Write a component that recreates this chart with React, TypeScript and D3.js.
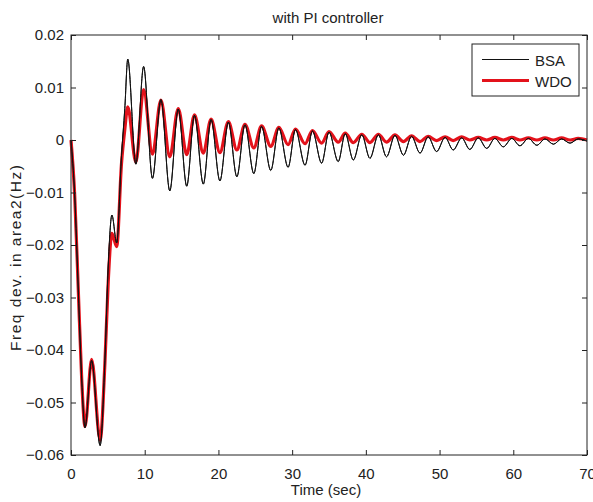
import React, { useEffect, useRef } from 'react'
import * as d3 from 'd3'

// time samples (sec) — peaks/troughs
const TIME = [
  0, 0.5, 1.0, 1.45, 1.9, 2.8, 3.95, 4.6, 5.05, 5.55, 6.2, 6.85, 7.3, 7.7,
  8.8, 9.85, 11.05, 12.2, 13.4, 14.55, 15.7, 16.75, 17.95, 19.0, 20.2, 21.35,
  22.5, 23.6, 24.8, 25.85, 27.1, 28.2, 29.45, 30.45, 31.75, 32.75, 34.0, 35.0,
  36.25, 37.2, 38.3, 39.45, 40.55, 41.7, 42.8, 43.95, 45.1, 46.2, 47.35, 48.45,
  49.6, 50.75, 51.85, 53.0, 54.1, 55.25, 56.4, 57.5, 58.65, 59.8, 60.9, 62.05,
  63.2, 64.3, 65.45, 66.55, 67.7, 68.8, 70,
]

const BSA = [
  0, -0.0105, -0.029, -0.0455, -0.0548, -0.042, -0.0582, -0.042, -0.024, -0.0143, -0.0196, -0.003, 0.006, 0.0154,
  -0.0046, 0.014, -0.0073, 0.0077, -0.0097, 0.0059, -0.0088, 0.0047, -0.0084, 0.0039, -0.0078, 0.0034,
  -0.007, 0.0029, -0.0064, 0.0026, -0.0058, 0.0023, -0.0052, 0.002, -0.0048, 0.0017, -0.0044, 0.0015,
  -0.0041, 0.0012, -0.0038, 0.001, -0.0035, 0.001, -0.0032, 0.0009, -0.0029, 0.0007, -0.0025, 0.0006,
  -0.0022, 0.0005, -0.0019, 0.0004, -0.0018, 0.0004, -0.0016, 0.0003, -0.0013, 0.0003, -0.0011, 0.0003,
  -0.001, 0.0002, -0.0008, 0.0002, -0.0006, 0.0002, -0.0002,
]

const WDO = [
  0, -0.0105, -0.029, -0.0455, -0.0546, -0.0418, -0.0572, -0.0425, -0.027, -0.0178, -0.0203, -0.0045, 0.002, 0.0063,
  -0.0042, 0.0096, -0.0027, 0.0076, -0.0032, 0.006, -0.0028, 0.0048, -0.0025, 0.004, -0.0024, 0.0035,
  -0.0019, 0.003, -0.0015, 0.0027, -0.0012, 0.0024, -0.0009, 0.0021, -0.0007, 0.0018, -0.0006, 0.0016,
  -0.0004, 0.0013, -0.0005, 0.0011, -0.0005, 0.0011, -0.0004, 0.001, -0.0003, 0.0008, -0.0003, 0.0007,
  -0.0001, 0.0006, -0.0001, 0.0006, 0.0, 0.0005, 0.0, 0.0005, 0.0, 0.0005, 0.0, 0.0004,
  0.0, 0.0004, 0.0, 0.0004, 0.0, 0.0003, 0.0,
]

const X_TICKS = [0, 10, 20, 30, 40, 50, 60, 70]
const Y_TICKS = [-0.06, -0.05, -0.04, -0.03, -0.02, -0.01, 0, 0.01, 0.02]

const SERIES = [
  { name: 'BSA', values: BSA, color: '#111111', width: 1 },
  { name: 'WDO', values: WDO, color: '#e3121b', width: 3.2 },
]

export default function App() {
  const ref = useRef<SVGSVGElement>(null)

  useEffect(() => {
    const W = 593, H = 502
    const M = { top: 35, right: 6, bottom: 47, left: 71 }
    const iw = W - M.left - M.right
    const ih = H - M.top - M.bottom
    const font = '"Liberation Sans", Arial, sans-serif'

    const svg = d3.select(ref.current)
    svg.selectAll('*').remove()
    svg.attr('width', W).attr('height', H)
    svg.append('rect').attr('width', W).attr('height', H).attr('fill', '#fff')

    const x = d3.scaleLinear().domain([0, 70]).range([0, iw])
    const y = d3.scaleLinear().domain([-0.06, 0.02]).range([ih, 0])

    const g = svg.append('g').attr('transform', `translate(${M.left},${M.top})`)

    const line = d3.line<number>()
      .x((d, i) => x(TIME[i]))
      .y(d => y(d))
      .curve(d3.curveMonotoneX)

    // red under, thin black on top so it shows through, like the original
    SERIES.slice().reverse().forEach(s => {
      g.append('path')
        .datum(s.values)
        .attr('fill', 'none')
        .attr('stroke', s.color)
        .attr('stroke-width', s.width)
        .attr('stroke-linejoin', 'round')
        .attr('d', line)
    })
    g.append('path')
      .datum(BSA)
      .attr('fill', 'none')
      .attr('stroke', '#111')
      .attr('stroke-width', 1)
      .attr('d', line)

    // MATLAB-style box with inward ticks
    const tick = 5
    const axisColor = '#222'
    const styleAxis = (s: any) => {
      s.select('.domain').remove()
      s.selectAll('line').attr('stroke', axisColor)
      s.selectAll('text').attr('fill', '#222').attr('font-family', font).attr('font-size', 15)
    }

    g.append('g').attr('transform', `translate(0,${ih})`)
      .call(d3.axisBottom(x).tickValues(X_TICKS).tickSize(-tick).tickPadding(tick + 8).tickFormat(d3.format('d')))
      .call(styleAxis)
    g.append('g')
      .call(d3.axisTop(x).tickValues(X_TICKS).tickSize(-tick).tickFormat(() => ''))
      .call(styleAxis)
    g.append('g')
      .call(d3.axisLeft(y).tickValues(Y_TICKS).tickSize(-tick).tickPadding(tick + 2)
        .tickFormat(d => (d === 0 ? '0' : d3.format('.2f')(d as number))))
      .call(styleAxis)
    g.append('g').attr('transform', `translate(${iw},0)`)
      .call(d3.axisRight(y).tickValues(Y_TICKS).tickSize(-tick).tickFormat(() => ''))
      .call(styleAxis)

    g.append('rect')
      .attr('width', iw).attr('height', ih)
      .attr('fill', 'none').attr('stroke', axisColor).attr('stroke-width', 1)

    // title and axis labels
    svg.append('text')
      .attr('x', M.left + iw / 2 - 1).attr('y', 23)
      .attr('text-anchor', 'middle').attr('font-family', font).attr('font-size', 15).attr('fill', '#222')
      .text('with PI controller')
    svg.append('text')
      .attr('x', M.left + iw / 2 - 3).attr('y', 495)
      .attr('text-anchor', 'middle').attr('font-family', font).attr('font-size', 15).attr('fill', '#222')
      .text('Time (sec)')
    svg.append('text')
      .attr('transform', `translate(20.5,${258}) rotate(-90)`)
      .attr('text-anchor', 'middle').attr('font-family', font).attr('font-size', 15.5).attr('fill', '#222')
      .attr('textLength', 186).attr('lengthAdjust', 'spacing')
      .text('Freq dev. in area2(Hz)')

    // legend
    const lg = svg.append('g').attr('transform', 'translate(472,44)')
    lg.append('rect').attr('width', 107).attr('height', 52)
      .attr('fill', '#fff').attr('stroke', axisColor).attr('stroke-width', 1)
    SERIES.forEach((s, i) => {
      const cy = 15.5 + i * 21
      lg.append('line')
        .attr('x1', 10).attr('x2', 57).attr('y1', cy).attr('y2', cy)
        .attr('stroke', s.color).attr('stroke-width', s.width)
      lg.append('text')
        .attr('x', 63).attr('y', cy + 6)
        .attr('font-family', font).attr('font-size', 15).attr('fill', '#222')
        .text(s.name)
    })
  }, [])

  return <svg ref={ref} style={{ position: 'absolute', left: 0, top: 0, display: 'block' }} />
}
